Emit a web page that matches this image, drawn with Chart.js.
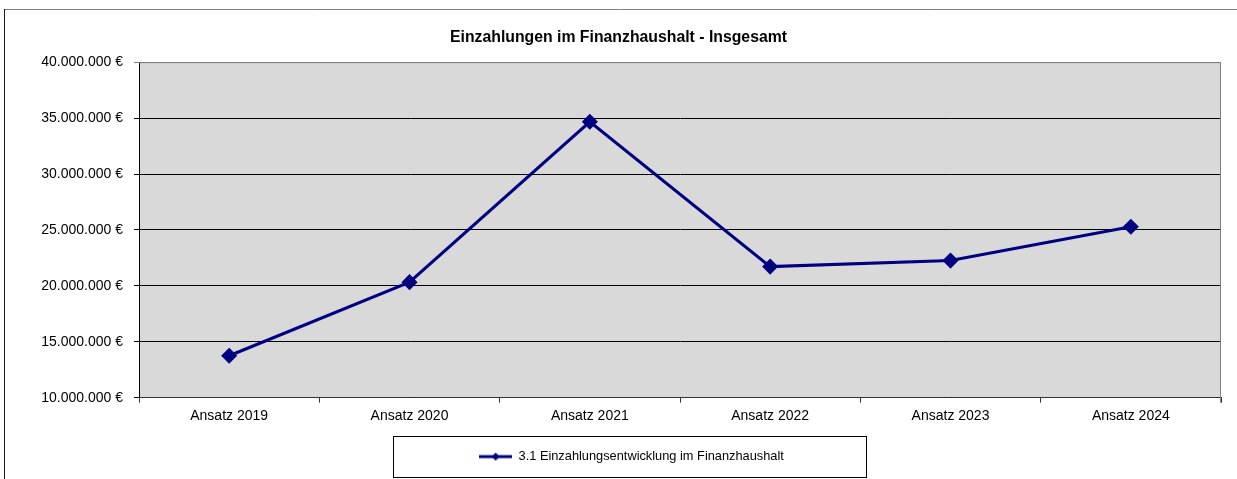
<!DOCTYPE html>
<html>
<head>
<meta charset="utf-8">
<script src="https://cdn.jsdelivr.net/npm/chart.js@4/dist/chart.umd.min.js"></script>
<style>
  html, body { margin: 0; padding: 0; background: #ffffff; }
  #wrap { width: 1237px; height: 479px; }
</style>
</head>
<body>
<div id="wrap"><canvas id="c" width="1237" height="479"></canvas></div>
<script>
const chartTitle = 'Einzahlungen im Finanzhaushalt - Insgesamt';
const categories = ['Ansatz 2019', 'Ansatz 2020', 'Ansatz 2021', 'Ansatz 2022', 'Ansatz 2023', 'Ansatz 2024'];
const seriesName = '3.1 Einzahlungsentwicklung im Finanzhaushalt';
const seriesValues = [13750000, 20330000, 34670000, 21720000, 22260000, 25290000];
const yMin = 10000000;
const yMax = 40000000;
const yStep = 5000000;

const NAVY = '#000080';
const FONT = "'Liberation Sans', Arial, sans-serif";

function formatEuro(v) {
  const s = Math.round(v).toString().replace(/\B(?=(\d{3})+(?!\d))/g, '.');
  return s + ' €';
}

// legend symbol: line with small diamond
const legendSymbol = document.createElement('canvas');
legendSymbol.width = 33; legendSymbol.height = 10;
(function () {
  const g = legendSymbol.getContext('2d');
  g.strokeStyle = NAVY; g.lineWidth = 3;
  g.beginPath(); g.moveTo(0, 5); g.lineTo(33, 5); g.stroke();
  g.fillStyle = NAVY;
  g.beginPath(); g.moveTo(16.5 - 4, 5); g.lineTo(16.5, 1); g.lineTo(16.5 + 4, 5); g.lineTo(16.5, 9); g.closePath(); g.fill();
})();

const LEGEND_SHIFT = 13;

const decorPlugin = {
  id: 'decor',
  afterLayout(chart) {
    const lg = chart.legend;
    if (lg) { lg.left += LEGEND_SHIFT; lg.right += LEGEND_SHIFT; }
  },
  beforeDraw(chart) {
    const ctx = chart.ctx, a = chart.chartArea;
    ctx.save();
    ctx.fillStyle = '#ffffff';
    ctx.fillRect(0, 0, chart.width, chart.height);
    // outer frame (left + top visible)
    ctx.strokeStyle = '#808080'; ctx.lineWidth = 1;
    ctx.beginPath(); ctx.moveTo(4, 9.5); ctx.lineTo(chart.width, 9.5); ctx.stroke();
    ctx.strokeStyle = '#1a1a1a';
    ctx.beginPath(); ctx.moveTo(4.5, 9); ctx.lineTo(4.5, chart.height); ctx.stroke();
    // plot background
    ctx.fillStyle = '#d9d9d9';
    ctx.fillRect(a.left, a.top, a.right - a.left, a.bottom - a.top);
    ctx.restore();
  },
  beforeDatasetsDraw(chart) {
    const ctx = chart.ctx, a = chart.chartArea;
    ctx.save();
    ctx.strokeStyle = '#808080'; ctx.lineWidth = 1;
    ctx.beginPath();
    ctx.moveTo(a.left, a.top + 0.5); ctx.lineTo(a.right, a.top + 0.5);
    ctx.moveTo(a.right - 0.5, a.top); ctx.lineTo(a.right - 0.5, a.bottom + 5);
    ctx.stroke();
    ctx.restore();
  },
  afterDraw(chart) {
    const lg = chart.legend;
    if (!lg || !lg.legendHitBoxes || !lg.legendHitBoxes.length) return;
    const h = lg.legendHitBoxes[0];
    const cy = h.top + h.height / 2;
    const cx = (lg.left + lg.right) / 2;
    const ctx = chart.ctx;
    ctx.save();
    ctx.strokeStyle = '#000000'; ctx.lineWidth = 1;
    const left = Math.round(cx - 238.5) + 0.5;
    const right = Math.round(cx + 234.5) + 0.5;
    const top = Math.round(cy - 21) + 0.5;
    const bottom = Math.round(cy + 20) + 0.5;
    ctx.strokeRect(left, top, right - left, bottom - top);
    ctx.restore();
  }
};

new Chart(document.getElementById('c'), {
  type: 'line',
  data: {
    labels: categories,
    datasets: [{
      label: seriesName,
      data: seriesValues,
      borderColor: NAVY,
      backgroundColor: NAVY,
      borderWidth: 3,
      pointStyle: 'rectRot',
      pointRadius: 7,
      pointBorderWidth: 1.5,
      pointBackgroundColor: NAVY,
      pointBorderColor: NAVY,
      tension: 0,
      fill: false
    }]
  },
  options: {
    responsive: false,
    animation: false,
    devicePixelRatio: 1,
    layout: { padding: { left: 16, right: 16, top: 9, bottom: 6 } },
    plugins: {
      title: {
        display: true,
        text: chartTitle,
        color: '#000000',
        font: { family: FONT, size: 15.8, weight: 'bold' },
        padding: { top: 18.7, bottom: 15.5 }
      },
      legend: {
        display: true,
        position: 'bottom',
        labels: {
          color: '#000000',
          font: { family: FONT, size: 12.8 },
          usePointStyle: true,
          pointStyleWidth: 33,
          padding: 10,
          generateLabels(chart) {
            return chart.data.datasets.map((ds, i) => ({
              text: ds.label,
              pointStyle: legendSymbol,
              fillStyle: NAVY,
              strokeStyle: NAVY,
              lineWidth: 0,
              hidden: false,
              datasetIndex: i,
              fontColor: '#000000'
            }));
          }
        }
      },
      tooltip: { enabled: false }
    },
    scales: {
      x: {
        offset: true,
        afterFit(scale) { scale.height = 42.5; },
        grid: {
          offset: true,
          drawOnChartArea: false,
          drawTicks: true,
          tickLength: 5,
          color: '#333333',
          lineWidth: 1
        },
        border: { display: true, color: '#333333', width: 1 },
        ticks: {
          color: '#000000',
          font: { family: FONT, size: 14 },
          padding: 5,
          maxRotation: 0,
          autoSkip: false
        }
      },
      y: {
        min: yMin,
        max: yMax,
        afterFit(scale) { scale.width = 123; },
        grid: {
          drawOnChartArea: true,
          drawTicks: true,
          tickLength: 5,
          color: (ctx) => (ctx.tick && ctx.tick.value === yMax ? '#808080' : '#000000'),
          lineWidth: 1
        },
        border: { display: true, color: '#000000', width: 1 },
        ticks: {
          stepSize: yStep,
          color: '#000000',
          font: { family: FONT, size: 14 },
          padding: 11,
          callback: (v) => formatEuro(v)
        }
      }
    }
  },
  plugins: [decorPlugin]
});
</script>
</body>
</html>
